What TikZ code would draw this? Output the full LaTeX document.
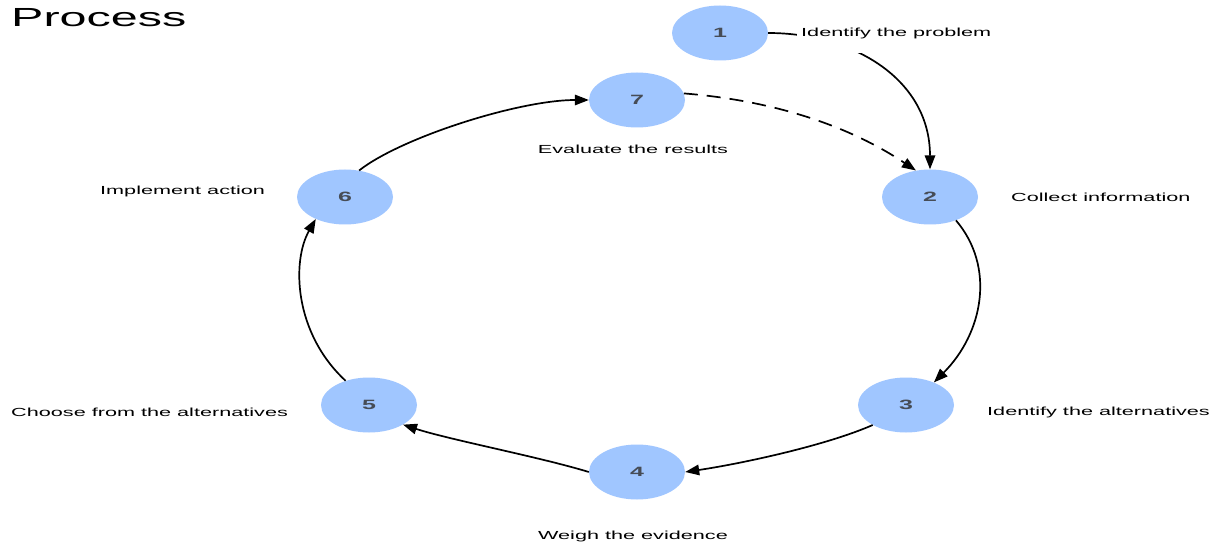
\documentclass[tikz,border=0pt]{standalone}
\usepackage{fontspec}
\newfontfamily\lbl[FakeStretch=1.85]{Liberation Sans}
\usetikzlibrary{shapes.geometric,arrows.meta}
\definecolor{nodeblue}{RGB}{160,198,255}
\definecolor{numgray}{RGB}{70,76,86}
\tikzset{
  stepnode/.style={ellipse,fill=nodeblue,draw=none,minimum width=96pt,minimum height=55pt,inner sep=0pt,font=\lbl\bfseries\fontsize{13.5}{15}\selectfont,text=numgray},
  lbltext/.style={font=\lbl\fontsize{11.7}{14}\selectfont,text=black,inner sep=0pt},
  conn/.style={line width=1.7pt,-{Triangle[length=14pt,width=10.5pt]}},
}
\begin{document}
\begin{tikzpicture}[x=1pt,y=1pt]
\useasboundingbox (0,0) rectangle (1220,544);
\fill[white] (0,0) rectangle (1220,544);
% nodes
\node[stepnode] (n1) at (720,511) {1};
\node[stepnode] (n7) at (637,444) {7};
\node[stepnode] (n2) at (930,347) {2};
\node[stepnode] (n3) at (906,139) {3};
\node[stepnode] (n4) at (637,72) {4};
\node[stepnode] (n5) at (369,139) {5};
\node[stepnode] (n6) at (345,347) {6};
% connectors
\draw[conn] (n1.east) .. controls +(85,0) and +(0,90) .. (n2.north);
\draw[conn,dash pattern=on 14pt off 9pt] (n7.8) .. controls +(100,-8) and +(-60,40) .. (n2.118);
\draw[conn] (n2.-42) .. controls +(40,-47) and +(49,49) .. (n3.39);
\draw[conn] (n3.211) .. controls +(-48,-21) and +(54,8) .. (n4.east);
\draw[conn] (n4.west) .. controls +(-49,15) and +(46,-15) .. (n5.-30);
\draw[conn] (n5.134) .. controls +(-52,48) and +(-24,-42) .. (n6.217);
\draw[conn] (n6.62) .. controls +(42,33) and +(-70,0) .. (n7.west);
% labels
\node[lbltext,anchor=west,fill=white,inner xsep=4pt,minimum height=40pt] (l1) at (797,511) {Identify the problem};
\node[lbltext] (l7) at (633,395) {Evaluate the results};
\node[lbltext,anchor=west] (l2) at (1011,347) {Collect information};
\node[lbltext,anchor=west] (l3) at (987,132) {Identify the alternatives};
\node[lbltext] (l4) at (633,8) {Weigh the evidence};
\node[lbltext,anchor=west] (l5) at (11,132) {Choose from the alternatives};
\node[lbltext,anchor=west] (l6) at (100,353) {Implement action};
\node[anchor=base west,inner sep=0pt,font=\lbl\fontsize{26.2}{30}\selectfont] (title) at (11,517) {Process};
\end{tikzpicture}
\end{document}
